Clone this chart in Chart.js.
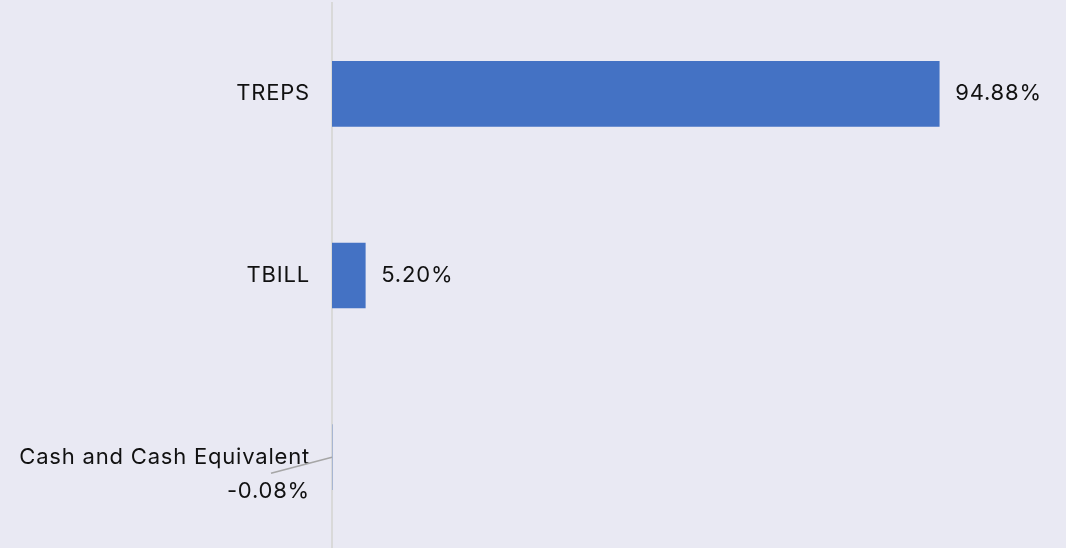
<!DOCTYPE html>
<html>
<head>
<meta charset="utf-8">
<script src="https://cdn.jsdelivr.net/npm/chart.js@4"></script>
<style>
  html, body { margin: 0; padding: 0; background: #e9e9f3; }
  #wrap { width: 1066px; height: 548px; position: relative; }
</style>
</head>
<body>
<div id="wrap"><canvas id="chart"></canvas></div>
<script>
// Данные графика
const categories = ['TREPS', 'TBILL', 'Cash and Cash Equivalent'];
const weights = [94.88, 5.20, -0.08];
const valueLabels = ['94.88%', '5.20%', '-0.08%'];

const FONT = 'Inter, "Noto Sans", sans-serif';
const FONT_SIZE = 22;
const LETTER_SPACING = '0.8px';

// Немного разреженный шрифт для всех подписей
const spacingPlugin = {
  id: 'spacing',
  beforeDraw(chart) {
    chart.ctx.letterSpacing = LETTER_SPACING;
  },
};

// Подписи значений у концов столбцов
const valueLabelPlugin = {
  id: 'valueLabels',
  afterDatasetsDraw(chart) {
    const ctx = chart.ctx;
    const meta = chart.getDatasetMeta(0);
    ctx.save();
    ctx.letterSpacing = LETTER_SPACING;
    ctx.font = FONT_SIZE + 'px ' + FONT;
    ctx.fillStyle = '#111';
    ctx.textBaseline = 'middle';
    meta.data.forEach((bar, i) => {
      if (weights[i] >= 0) {
        ctx.textAlign = 'left';
        ctx.fillText(valueLabels[i], bar.x + 16, bar.y);
      } else {
        // отрицательное значение: выноска под названием категории
        const axisX = chart.chartArea.left;
        ctx.strokeStyle = '#a6a6a6';
        ctx.lineWidth = 1.5;
        ctx.beginPath();
        ctx.moveTo(axisX, bar.y);
        ctx.lineTo(axisX - 61, bar.y + 16);
        ctx.stroke();
        ctx.textAlign = 'right';
        ctx.fillText(valueLabels[i], axisX - 22, bar.y + 34);
      }
    });
    ctx.restore();
  },
};

const ctx = document.getElementById('chart').getContext('2d');
new Chart(ctx, {
  type: 'bar',
  data: {
    labels: categories,
    datasets: [{
      data: weights,
      backgroundColor: '#4472c4',
      barThickness: 65,
    }],
  },
  options: {
    indexAxis: 'y',
    animation: false,
    responsive: true,
    maintainAspectRatio: false,
    layout: { padding: { top: 3, right: 94, bottom: -4, left: 0 } },
    plugins: {
      legend: { display: false },
      tooltip: { enabled: false },
    },
    scales: {
      x: {
        display: false,
        min: 0,
        max: 100,
      },
      y: {
        afterFit: (scale) => {
          scale.width = 332;
          scale.paddingTop = 0;
          scale.paddingBottom = 0;
        },
        grid: {
          display: true,
          drawOnChartArea: false,
          drawTicks: true,
          tickLength: 22,
          color: 'rgba(0,0,0,0)',
          tickColor: 'rgba(0,0,0,0)',
        },
        border: { display: true, color: '#d9d9d9', width: 2 },
        ticks: {
          padding: 0,
          color: '#111',
          font: { family: FONT, size: FONT_SIZE },
        },
      },
    },
  },
  plugins: [spacingPlugin, valueLabelPlugin],
});
</script>
</body>
</html>
